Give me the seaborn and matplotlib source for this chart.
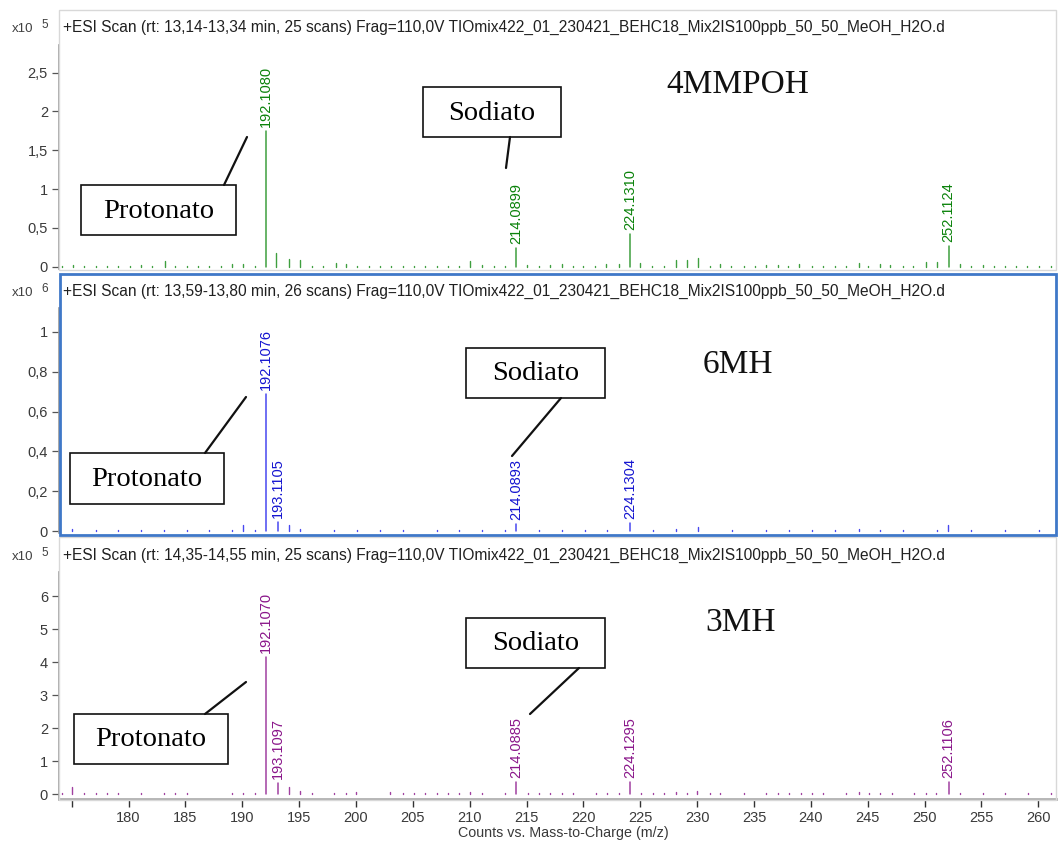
import numpy as np
import pandas as pd
import matplotlib
matplotlib.use("Agg")
import matplotlib.pyplot as plt
from matplotlib.patches import Rectangle
from matplotlib.ticker import FuncFormatter
import seaborn as sns

sns.set_theme(style="white")
plt.rcParams["font.family"] = ["Liberation Sans", "DejaVu Sans"]

# ---------------- data ----------------
header_4mmpoh = "+ESI Scan (rt: 13,14-13,34 min, 25 scans) Frag=110,0V TIOmix422_01_230421_BEHC18_Mix2IS100ppb_50_50_MeOH_H2O.d"
header_6mh = "+ESI Scan (rt: 13,59-13,80 min, 26 scans) Frag=110,0V TIOmix422_01_230421_BEHC18_Mix2IS100ppb_50_50_MeOH_H2O.d"
header_3mh = "+ESI Scan (rt: 14,35-14,55 min, 25 scans) Frag=110,0V TIOmix422_01_230421_BEHC18_Mix2IS100ppb_50_50_MeOH_H2O.d"

# labelled peaks (m/z, counts)
peaks_4mmpoh_mz = [192.1080, 214.0899, 224.1310, 252.1124]
peaks_4mmpoh_int = [175000, 24500, 42500, 27000]
peaks_6mh_mz = [192.1076, 193.1105, 214.0893, 224.1304]
peaks_6mh_int = [690000, 45000, 35000, 40000]
peaks_3mh_mz = [192.1070, 193.1097, 214.0885, 224.1295, 252.1106]
peaks_3mh_int = [415000, 33000, 36000, 36000, 36000]

# unlabelled minor ions
minor_4mmpoh_mz = [174.1, 175.1, 176.1, 177.1, 178.1, 179.1, 180.1, 181.1, 182.1, 183.2,
                   184.1, 185.1, 186.1, 187.1, 188.1, 189.1, 190.1, 191.1, 193.0, 194.1,
                   195.1, 196.1, 197.1, 198.2, 199.1, 200.1, 201.1, 202.1, 203.1, 204.1,
                   205.1, 206.1, 207.1, 208.1, 209.1, 210.0, 211.1, 212.1, 213.1, 215.0,
                   216.1, 217.1, 218.1, 219.1, 220.0, 221.0, 222.0, 223.1, 225.0, 226.0,
                   227.1, 228.1, 229.1, 230.1, 231.1, 232.0, 233.0, 234.1, 235.1, 236.1,
                   237.1, 238.0, 239.0, 240.1, 241.1, 242.1, 243.1, 244.2, 245.0, 246.1,
                   247.0, 248.1, 249.0, 250.1, 251.1, 253.1, 254.1, 255.1, 256.1, 257.1,
                   258.0, 259.0, 260.1, 261.1]
minor_4mmpoh_int = [1500, 2000, 1200, 1500, 1200, 1200, 1200, 2000, 1500, 7000,
                    1200, 1200, 1200, 1500, 1200, 3000, 3000, 1500, 18000, 10000,
                    9000, 1200, 1200, 5000, 4000, 1500, 1200, 1200, 1200, 1500,
                    1200, 1200, 1500, 1200, 1200, 7000, 2500, 1200, 1200, 2500,
                    1500, 2000, 4000, 1500, 1500, 1500, 3000, 3000, 4500, 1500,
                    1500, 8500, 8000, 11500, 1500, 3000, 1500, 1500, 1500, 2000,
                    2000, 1500, 3500, 1500, 1500, 1500, 1500, 4500, 1500, 3000,
                    2000, 1500, 1500, 6500, 5500, 3000, 1500, 2500, 1500, 1500,
                    1200, 1200, 1500, 1500]

minor_6mh_mz = [175.0, 177.1, 179.1, 181.1, 183.1, 185.1, 187.1, 189.1, 190.1, 191.1,
                194.1, 195.1, 198.1, 200.1, 202.1, 204.1, 207.1, 209.1, 211.1, 213.1,
                216.1, 218.1, 220.1, 222.1, 226.1, 228.1, 230.1, 233.1, 236.1, 238.1,
                240.1, 242.1, 244.2, 246.1, 248.1, 251.1, 252.1, 254.1, 257.1, 260.1]
minor_6mh_int = [9000, 4000, 4000, 4000, 4000, 4000, 4000, 6000, 30000, 5000,
                 30000, 9000, 4000, 5000, 4000, 4000, 4000, 4000, 5000, 4000,
                 4000, 4000, 4000, 4000, 4000, 10000, 18000, 5000, 4000, 4000,
                 4000, 4000, 8000, 5000, 4000, 6000, 32000, 4000, 4000, 4000]

minor_3mh_mz = [174.1, 175.0, 176.1, 177.1, 178.1, 179.1, 181.1, 183.1, 184.1, 185.1,
                189.1, 190.1, 191.1, 194.1, 195.1, 196.1, 198.1, 199.1, 200.0, 203.0,
                204.1, 205.1, 206.1, 207.1, 208.1, 209.1, 210.0, 211.1, 213.1, 215.1,
                216.1, 217.1, 218.1, 219.1, 221.1, 222.1, 223.1, 225.1, 226.1, 227.1,
                228.1, 229.1, 230.0, 231.1, 232.0, 234.1, 236.1, 237.1, 238.1, 239.1,
                240.1, 241.1, 243.1, 244.2, 245.1, 246.1, 247.1, 249.1, 250.1, 251.0,
                253.1, 255.1, 257.1, 259.1, 261.1]
minor_3mh_int = [2500, 20000, 2500, 2500, 3000, 2500, 3000, 2500, 2500, 2500,
                 2500, 2500, 2500, 20000, 8000, 2500, 3000, 2500, 5000, 5000,
                 2500, 2500, 2500, 2500, 2500, 2500, 6000, 2500, 2500, 2500,
                 2500, 2500, 2500, 2500, 2500, 2500, 2500, 2500, 2500, 2500,
                 5500, 2500, 10000, 2500, 2500, 2500, 2500, 2500, 3000, 2500,
                 2500, 2500, 2500, 7000, 2500, 2500, 2500, 2500, 3000, 4000,
                 2500, 2500, 2500, 2500, 2500]

compounds = ["4MMPOH", "6MH", "3MH"]
x_ticks = [175, 180, 185, 190, 195, 200, 205, 210, 215, 220, 225, 230, 235, 240, 245, 250, 255, 260]
x_ticklabels = ["", "180", "185", "190", "195", "200", "205", "210", "215", "220", "225",
                "230", "235", "240", "245", "250", "255", "260"]
y_ticks_4mmpoh = [0, 50000, 100000, 150000, 200000, 250000]
y_ticks_6mh = [0, 200000, 400000, 600000, 800000, 1000000]
y_ticks_3mh = [0, 100000, 200000, 300000, 400000, 500000, 600000]

# ---------------- layout helpers ----------------
W, H = 1058, 844
fig = plt.figure(figsize=(W / 100, H / 100), dpi=100)


def px_axes(x0, y0, x1, y1, **kw):
    return fig.add_axes([x0 / W, 1 - y1 / H, (x1 - x0) / W, (y1 - y0) / H], **kw)


def stems(mz, inten):
    rows = []
    for i, (m, v) in enumerate(zip(mz, inten)):
        rows.append({"mz": m, "counts": 0.0, "pid": i})
        rows.append({"mz": m, "counts": float(v), "pid": i})
    return pd.DataFrame(rows)


def comma_fmt(scale):
    return FuncFormatter(lambda v, p: f"{v / scale:g}".replace(".", ","))


panels = [
    dict(box=(59, 45, 1056, 269), ylim=(-3000, 285700), ticks=y_ticks_4mmpoh, scale=1e5,
         mz=peaks_4mmpoh_mz, inten=peaks_4mmpoh_int, mmz=minor_4mmpoh_mz, mint=minor_4mmpoh_int,
         line="#3f9f3f", text="#0a820a"),
    dict(box=(59, 308, 1056, 533), ylim=(-10000, 1120000), ticks=y_ticks_6mh, scale=1e6,
         mz=peaks_6mh_mz, inten=peaks_6mh_int, mmz=minor_6mh_mz, mint=minor_6mh_int,
         line="#4848f0", text="#1515d0"),
    dict(box=(59, 572, 1056, 799), ylim=(-15000, 673000), ticks=y_ticks_3mh, scale=1e5,
         mz=peaks_3mh_mz, inten=peaks_3mh_int, mmz=minor_3mh_mz, mint=minor_3mh_int,
         line="#a040a0", text="#8a168a"),
]

axes = []
for k, p in enumerate(panels):
    ax = px_axes(*p["box"])
    ax.set_facecolor("none")
    sns.lineplot(data=stems(p["mmz"], p["mint"]), x="mz", y="counts", units="pid",
                 estimator=None, sort=False, color=p["line"], lw=1.0, ax=ax, legend=False)
    sns.lineplot(data=stems(p["mz"], p["inten"]), x="mz", y="counts", units="pid",
                 estimator=None, sort=False, color=p["line"], lw=1.1, ax=ax, legend=False)
    for m, v in zip(p["mz"], p["inten"]):
        ax.annotate(f"{m:.4f}", xy=(m, v), xytext=(0, 4), textcoords="offset pixels",
                    rotation=90, ha="center", va="bottom", fontsize=10.5,
                    color=p["text"])
    ax.set_xlim(173.88, 261.56)
    ax.set_ylim(*p["ylim"])
    ax.set_yticks(p["ticks"])
    ax.yaxis.set_major_formatter(comma_fmt(p["scale"]))
    ax.tick_params(axis="y", left=True, length=5, width=0.9, color="#555555",
                   labelsize=10.5, labelcolor="#3a3a3a", pad=3)
    ax.set_xlabel("")
    ax.set_ylabel("")
    for s in ["top", "right", "bottom"]:
        ax.spines[s].set_visible(False)
    ax.spines["left"].set_color("#9a9a9a")
    ax.spines["left"].set_linewidth(1.2)
    if k < 2:
        ax.set_xticks([])
    else:
        ax.spines["bottom"].set_visible(True)
        ax.spines["bottom"].set_color("#b0b0b0")
        ax.spines["bottom"].set_linewidth(2.0)
        ax.set_xticks(x_ticks)
        ax.set_xticklabels(x_ticklabels)
        ax.tick_params(axis="x", bottom=True, length=6, width=1.0, color="#333333",
                       labelsize=10.5, labelcolor="#3a3a3a", pad=3)
    axes.append(ax)

# ---------------- overlay for frames, headers and callouts ----------------
ov = fig.add_axes([0, 0, 1, 1], zorder=10)
ov.set_xlim(0, W)
ov.set_ylim(H, 0)
ov.axis("off")
ov.patch.set_alpha(0)

# panel frames
ov.add_patch(Rectangle((59, 10), 997, 260, fill=False, ec="#d8d8d8", lw=1.0))
ov.add_patch(Rectangle((59, 537), 997, 263, fill=False, ec="#d8d8d8", lw=1.0))
ov.add_patch(Rectangle((59.5, 273.5), 996, 261, fill=False, ec="#3f78c8", lw=2.0))

serif = ["Liberation Serif", "DejaVu Serif"]
headers = [header_4mmpoh, header_6mh, header_3mh]
header_y = [27, 291, 555]
exps = ["5", "6", "5"]
for hdr, hy, ex in zip(headers, header_y, exps):
    ov.text(63, hy, hdr, ha="left", va="center", fontsize=11.2, color="#202020")
    ov.text(12, hy + 2, "x10", ha="left", va="center", fontsize=9.5, color="#404040")
    ov.text(41, hy - 2, ex, ha="left", va="center", fontsize=8.5, color="#404040")

ov.text(563, 833, "Counts vs. Mass-to-Charge (m/z)", ha="center", va="center",
        fontsize=10.3, color="#3a3a3a")

# compound names
name_pos = [(738, 85), (738, 365), (741, 623)]
for name, (nx, ny) in zip(compounds, name_pos):
    ov.text(nx, ny, name, ha="center", va="center", fontsize=24, family=serif, color="#111111")

# callout boxes: (x0, y0, x1, y1, text, leader start, leader end)
callouts = [
    (81, 185, 236, 235, "Protonato", (224, 185), (247, 137)),
    (423, 87, 561, 137, "Sodiato", (510, 137), (506, 168)),
    (70, 453, 224, 504, "Protonato", (205, 453), (246, 397)),
    (466, 348, 605, 398, "Sodiato", (561, 398), (512, 456)),
    (74, 714, 228, 764, "Protonato", (205, 714), (246, 682)),
    (466, 618, 605, 668, "Sodiato", (579, 668), (530, 714)),
]
for x0, y0, x1, y1, txt, a, b in callouts:
    ov.add_patch(Rectangle((x0, y0), x1 - x0, y1 - y0, fc="white", ec="#111111", lw=1.2))
    ov.text((x0 + x1) / 2, (y0 + y1) / 2 + 1, txt, ha="center", va="center",
            fontsize=20.5, family=serif, color="#000000")
    ov.plot([a[0], b[0]], [a[1], b[1]], color="#111111", lw=1.6)

fig.savefig("out.png", dpi=100, facecolor="white")
